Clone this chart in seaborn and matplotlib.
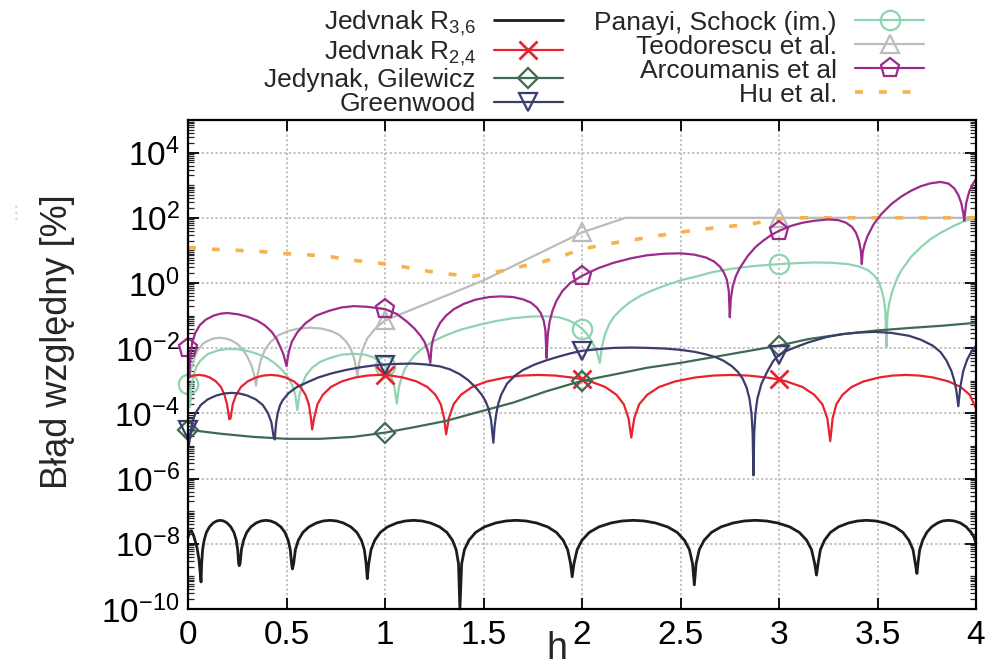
import numpy as np
import pandas as pd
import matplotlib
matplotlib.use("Agg")
import matplotlib.pyplot as plt
from matplotlib.lines import Line2D
from matplotlib.ticker import FixedLocator, LogLocator, FuncFormatter, NullFormatter, LogFormatterSciNotation
import seaborn as sns

# ---------------- data (h, log10 of relative error [%]) ----------------
r36_h = [0.0, 0.008, 0.018, 0.03, 0.045, 0.056, 0.066,
         0.069, 0.074, 0.082, 0.093, 0.109, 0.128, 0.146, 0.163, 0.181, 0.198, 0.217, 0.233, 0.245, 0.252, 0.257, 0.26,
         0.264, 0.271, 0.282, 0.298, 0.319, 0.346, 0.371, 0.395, 0.419, 0.444, 0.471, 0.492, 0.508, 0.519, 0.526, 0.53,
         0.536, 0.545, 0.560, 0.583, 0.614, 0.652, 0.686, 0.72, 0.754, 0.788, 0.826, 0.857, 0.880, 0.895, 0.904, 0.91,
         0.917, 0.929, 0.948, 0.976, 1.013, 1.060, 1.103, 1.145, 1.187, 1.230, 1.277, 1.314, 1.342, 1.361, 1.373, 1.38,
         1.389, 1.403, 1.426, 1.460, 1.505, 1.562, 1.614, 1.665, 1.716, 1.768, 1.825, 1.870, 1.904, 1.927, 1.942, 1.95,
         1.959, 1.975, 2.000, 2.037, 2.086, 2.148, 2.204, 2.26, 2.316, 2.372, 2.434, 2.483, 2.520, 2.545, 2.561, 2.57,
         2.579, 2.595, 2.620, 2.657, 2.706, 2.768, 2.824, 2.88, 2.936, 2.992, 3.054, 3.103, 3.140, 3.165, 3.181, 3.19,
         3.198, 3.210, 3.231, 3.261, 3.302, 3.353, 3.399, 3.445, 3.491, 3.537, 3.588, 3.629, 3.659, 3.680, 3.692, 3.70,
         3.705, 3.714, 3.729, 3.75, 3.775, 3.805, 3.83, 3.86, 3.89, 3.92, 3.95, 3.975, 3.99, 4.0]
r36_lg = [-7.8, -7.62, -7.6, -7.78, -8.1, -8.5, -9.17,
          -8.61, -8.18, -7.89, -7.65, -7.48, -7.36, -7.30, -7.28, -7.30, -7.36, -7.48, -7.65, -7.89, -8.18, -8.61, -8.67,
          -8.61, -8.18, -7.89, -7.65, -7.48, -7.36, -7.30, -7.28, -7.30, -7.36, -7.48, -7.65, -7.89, -8.18, -8.61, -8.77,
          -8.61, -8.18, -7.89, -7.65, -7.48, -7.36, -7.30, -7.28, -7.30, -7.36, -7.48, -7.65, -7.89, -8.18, -8.61, -9.07,
          -8.61, -8.18, -7.89, -7.65, -7.48, -7.36, -7.30, -7.28, -7.30, -7.36, -7.48, -7.65, -7.89, -8.18, -8.61, -10.0,
          -8.61, -8.18, -7.89, -7.65, -7.48, -7.36, -7.30, -7.28, -7.30, -7.36, -7.48, -7.65, -7.89, -8.18, -8.61, -9.01,
          -8.61, -8.18, -7.89, -7.65, -7.48, -7.36, -7.30, -7.28, -7.30, -7.36, -7.48, -7.65, -7.89, -8.18, -8.61, -9.26,
          -8.61, -8.18, -7.89, -7.65, -7.48, -7.36, -7.30, -7.28, -7.30, -7.36, -7.48, -7.65, -7.89, -8.18, -8.61, -8.96,
          -8.61, -8.18, -7.89, -7.65, -7.48, -7.36, -7.30, -7.28, -7.30, -7.36, -7.48, -7.65, -7.89, -8.18, -8.61, -8.91,
          -8.61, -8.18, -7.89, -7.65, -7.48, -7.36, -7.30, -7.28, -7.30, -7.36, -7.48, -7.65, -7.80, -8.0]

r24_h = [0.0, 0.027, 0.055, 0.083, 0.111, 0.142, 0.167, 0.185, 0.198, 0.205, 0.21,
         0.216, 0.227, 0.244, 0.269, 0.302, 0.344, 0.382, 0.42, 0.458, 0.496, 0.538, 0.571, 0.596, 0.613, 0.624, 0.63,
         0.640, 0.657, 0.684, 0.725, 0.780, 0.848, 0.909, 0.97, 1.0, 1.031, 1.092, 1.160, 1.215, 1.256, 1.283, 1.300, 1.31,
         1.324, 1.348, 1.385, 1.442, 1.517, 1.611, 1.695, 1.78, 1.865, 1.949, 2.0, 2.043, 2.118, 2.175, 2.212, 2.236, 2.25,
         2.265, 2.290, 2.331, 2.391, 2.472, 2.573, 2.664, 2.755, 2.846, 2.937, 3.0, 3.038, 3.119, 3.179, 3.220, 3.245, 3.26,
         3.272, 3.291, 3.322, 3.368, 3.429, 3.506, 3.576, 3.645, 3.714, 3.784, 3.861, 3.922, 3.968, 4.0]
r24_lg = [-2.90, -2.84, -2.82, -2.84, -2.90, -3.02, -3.19, -3.43, -3.72, -4.0, -4.18,
          -4.15, -3.72, -3.43, -3.19, -3.02, -2.90, -2.84, -2.82, -2.84, -2.90, -3.02, -3.19, -3.43, -3.72, -4.15, -4.49,
          -4.15, -3.72, -3.43, -3.19, -3.02, -2.90, -2.84, -2.82, -2.82, -2.84, -2.90, -3.02, -3.19, -3.43, -3.72, -4.15, -4.64,
          -4.15, -3.72, -3.43, -3.19, -3.02, -2.90, -2.84, -2.82, -2.84, -2.90, -2.95, -3.02, -3.19, -3.43, -3.72, -4.15, -4.74,
          -4.15, -3.72, -3.43, -3.19, -3.02, -2.90, -2.84, -2.82, -2.84, -2.90, -2.96, -3.02, -3.19, -3.43, -3.72, -4.15, -4.85,
          -4.15, -3.72, -3.43, -3.19, -3.02, -2.90, -2.84, -2.82, -2.84, -2.90, -3.02, -3.19, -3.43, -3.85]

gil_h = [0.0, 0.16, 0.33, 0.5, 0.67, 0.84, 1.0, 1.15, 1.31, 1.46, 1.65, 1.82, 2.0,
         2.16, 2.33, 2.5, 2.67, 2.84, 3.0, 3.15, 3.32, 3.49, 3.66, 3.83, 4.0]
gil_lg = [-4.5, -4.62, -4.72, -4.78, -4.78, -4.72, -4.59, -4.42, -4.23, -3.98, -3.67, -3.32, -3.0,
          -2.81, -2.6, -2.45, -2.27, -2.09, -1.92, -1.72, -1.57, -1.46, -1.38, -1.31, -1.22]

gw_h = [0.0, 0.004, 0.011, 0.021, 0.039, 0.065, 0.100, 0.144, 0.183, 0.222, 0.261, 0.300, 0.344, 0.379, 0.405, 0.423, 0.434, 0.44,
        0.447, 0.455, 0.467, 0.48, 0.51, 0.55, 0.6, 0.66, 0.73, 0.8, 0.87, 0.94, 1.0, 1.07, 1.14, 1.21, 1.28, 1.33, 1.38, 1.42,
        1.46, 1.49, 1.51, 1.525, 1.538, 1.55,
        1.556, 1.565, 1.575, 1.59, 1.62, 1.66, 1.70, 1.76, 1.82, 1.88, 1.94, 2.0, 2.08, 2.16, 2.25, 2.33, 2.42, 2.5, 2.57,
        2.63, 2.68, 2.72, 2.76, 2.79, 2.815, 2.835, 2.85, 2.86, 2.866, 2.87,
        2.874, 2.88, 2.89, 2.91, 2.94, 2.97, 3.0, 3.05, 3.1, 3.15, 3.24, 3.32, 3.4, 3.49, 3.57, 3.66, 3.72, 3.78, 3.82,
        3.85, 3.875, 3.89, 3.9, 3.91,
        3.92, 3.935, 3.955, 3.975, 4.0]
gw_lg = [-4.5, -5.0, -4.70, -4.27, -3.98, -3.74, -3.57, -3.45, -3.39, -3.37, -3.39, -3.45, -3.57, -3.74, -3.98, -4.27, -4.70, -4.8,
         -4.3, -4.0, -3.75, -3.6, -3.38, -3.2, -3.06, -2.9, -2.77, -2.67, -2.59, -2.53, -2.5, -2.48, -2.47, -2.5, -2.56, -2.65,
         -2.8, -2.97, -3.2, -3.42, -3.62, -3.85, -4.2, -4.9,
         -4.4, -4.0, -3.7, -3.42, -3.08, -2.84, -2.67, -2.5, -2.37, -2.26, -2.16, -2.08, -2.03, -1.99, -1.98, -1.99, -2.01,
         -2.05, -2.11, -2.19, -2.28, -2.39, -2.55, -2.72, -2.93, -3.2, -3.55, -4.0, -4.6, -5.9,
         -4.6, -4.0, -3.55, -3.1, -2.72, -2.4, -2.2, -2.05, -1.93, -1.82, -1.66, -1.57, -1.52, -1.5, -1.53, -1.62, -1.74,
         -1.92, -2.12, -2.38, -2.7, -3.0, -3.3, -3.78,
         -3.2, -2.7, -2.35, -2.12, -1.92]

pan_h = [0.0, 0.005, 0.01, 0.016, 0.025, 0.04, 0.06, 0.1, 0.15, 0.2, 0.25, 0.3, 0.35, 0.4, 0.44, 0.48, 0.51, 0.53,
         0.545, 0.555, 0.565, 0.58, 0.6, 0.63, 0.67, 0.72, 0.78, 0.84, 0.9, 0.94, 0.97, 1.0, 1.025, 1.045, 1.06, 1.07,
         1.085, 1.1, 1.12, 1.15, 1.18, 1.24, 1.31, 1.39, 1.48, 1.56, 1.65, 1.74, 1.82, 1.88, 1.93, 1.97, 2.0, 2.03,
         2.055, 2.075, 2.09, 2.1, 2.115, 2.135, 2.16, 2.2, 2.24, 2.3, 2.36, 2.41, 2.5, 2.58, 2.66, 2.75, 2.87, 3.0,
         3.09, 3.18, 3.27, 3.35, 3.41, 3.45, 3.48, 3.505, 3.52, 3.532, 3.54, 3.545, 3.55, 3.56, 3.575, 3.6, 3.62, 3.67,
         3.72, 3.77, 3.82, 3.88, 3.94, 4.0]
pan_lg = [-3.1, -3.5, -3.8, -3.2, -2.9, -2.6, -2.4, -2.18, -2.07, -2.02, -2.03, -2.08, -2.17, -2.3, -2.46, -2.68, -2.92, -3.15,
          -3.45, -3.9, -3.45, -3.1, -2.82, -2.6, -2.42, -2.3, -2.2, -2.17, -2.2, -2.28, -2.4, -2.55, -2.78, -3.1, -3.7, -3.2,
          -2.88, -2.65, -2.45, -2.22, -2.05, -1.8, -1.6, -1.42, -1.28, -1.17, -1.08, -1.03, -1.02, -1.05, -1.14, -1.26, -1.4, -1.6,
          -1.85, -2.1, -2.45, -2.0, -1.6, -1.3, -1.05, -0.8, -0.6, -0.38, -0.22, -0.1, 0.08, 0.2, 0.33, 0.43, 0.52, 0.58,
          0.61, 0.63, 0.62, 0.58, 0.5, 0.4, 0.25, 0.05, -0.2, -0.5, -0.9, -1.97, -1.0, -0.6, -0.25, 0.15, 0.38, 0.8,
          1.1, 1.35, 1.54, 1.73, 1.9, 2.01]

teo_h = [0.0, 0.01, 0.02, 0.035, 0.05, 0.075, 0.1, 0.13, 0.16, 0.19, 0.22, 0.25, 0.275, 0.3, 0.32, 0.335, 0.345,
         0.355, 0.37, 0.39, 0.42, 0.46, 0.51, 0.56, 0.62, 0.68, 0.73, 0.77, 0.8, 0.825, 0.845, 0.86, 0.87, 0.885,
         0.91, 0.95, 1.0, 1.5, 2.0, 2.22, 3.0, 4.0]
teo_lg = [-2.9, -2.75, -2.55, -2.25, -2.05, -1.87, -1.77, -1.7, -1.68, -1.7, -1.76, -1.87, -2.02, -2.25, -2.5, -2.8, -3.15,
          -2.75, -2.35, -2.05, -1.8, -1.6, -1.47, -1.4, -1.37, -1.4, -1.48, -1.6, -1.78, -2.0, -2.35, -2.85, -2.4, -2.05,
          -1.7, -1.4, -1.15, 0.08, 1.55, 2.0, 2.0, 2.0]

arc_h = [0.0, 0.003, 0.006, 0.0118, 0.0215, 0.037, 0.060, 0.091, 0.130, 0.165, 0.2, 0.254, 0.3, 0.35, 0.39, 0.425,
         0.45, 0.47, 0.485, 0.5,
         0.51, 0.527, 0.554, 0.595, 0.65, 0.718, 0.779, 0.84, 0.91, 1.0, 1.06, 1.11, 1.15, 1.18, 1.2, 1.218, 1.23,
         1.236, 1.245, 1.26, 1.28, 1.31, 1.35, 1.4, 1.46, 1.53, 1.59, 1.65, 1.7, 1.74, 1.77, 1.79, 1.805, 1.814, 1.82,
         1.826, 1.835, 1.85, 1.87, 1.9, 1.94, 2.0, 2.08, 2.16, 2.25, 2.33, 2.42, 2.5, 2.57, 2.63, 2.67, 2.7, 2.72,
         2.735, 2.745, 2.75,
         2.755, 2.765, 2.78, 2.8, 2.84, 2.88, 2.92, 2.96, 3.0, 3.06, 3.12, 3.18, 3.25, 3.3, 3.34, 3.37, 3.39, 3.405,
         3.415, 3.42,
         3.425, 3.435, 3.45, 3.48, 3.52, 3.57, 3.62, 3.67, 3.72, 3.77, 3.82, 3.86, 3.89, 3.91, 3.925, 3.935, 3.94,
         3.95, 3.965, 3.98, 4.0]
arc_lg = [-2.0, -2.5, -2.9, -2.25, -1.82, -1.53, -1.29, -1.12, -1.0, -0.94, -0.92, -0.96, -1.03, -1.15, -1.3, -1.5,
          -1.72, -1.98, -2.2, -2.55,
          -2.15, -1.8, -1.52, -1.24, -1.0, -0.85, -0.75, -0.71, -0.73, -0.8, -0.95, -1.18, -1.4, -1.62, -1.8, -2.1, -2.45,
          -1.95, -1.7, -1.45, -1.22, -1.0, -0.8, -0.64, -0.51, -0.43, -0.41, -0.43, -0.5, -0.6, -0.75, -0.92, -1.15, -1.45, -2.3,
          -1.6, -1.2, -0.85, -0.55, -0.25, 0.0, 0.22, 0.45, 0.62, 0.76, 0.85, 0.9, 0.91, 0.87, 0.78, 0.66, 0.5, 0.32,
          0.1, -0.25, -1.05,
          -0.5, -0.1, 0.2, 0.45, 0.82, 1.1, 1.3, 1.47, 1.6, 1.75, 1.85, 1.91, 1.95, 1.93, 1.85, 1.72, 1.55, 1.3,
          1.0, 0.58,
          0.95, 1.2, 1.45, 1.8, 2.12, 2.42, 2.65, 2.83, 2.97, 3.06, 3.1, 3.05, 2.9, 2.7, 2.45, 2.15, 1.91,
          2.45, 2.8, 3.0, 3.2]

hu_h = [0.0, 0.14, 0.26, 0.38, 0.5, 0.62, 0.73, 0.85, 0.97, 1.09,
        1.21, 1.33, 1.45, 1.56, 1.68, 1.8, 1.91, 2.0, 2.12, 2.24,
        2.36, 2.49, 2.61, 2.73, 2.85, 2.97, 3.05, 4.0]
hu_lg = [1.09, 1.03, 1.0, 0.96, 0.9, 0.86, 0.8, 0.69, 0.61, 0.5,
         0.37, 0.27, 0.21, 0.33, 0.49, 0.65, 0.85, 1.04, 1.19, 1.3,
         1.43, 1.55, 1.65, 1.73, 1.8, 1.94, 2.0, 2.0]

marker_h_all = [0.0, 1.0, 2.0, 3.0]
marker_h_late = [1.0, 2.0, 3.0]
x_ticks = [0, 0.5, 1, 1.5, 2, 2.5, 3, 3.5, 4]
y_ticks = [1e-10, 1e-8, 1e-6, 1e-4, 1e-2, 1e0, 1e2, 1e4]

labels = ["Jedvnak R$_{3{,}6}$", "Jedvnak R$_{2{,}4}$", "Jedynak, Gilewicz", "Greenwood",
          "Panayi, Schock (im.)", "Teodorescu et al.", "Arcoumanis et al", "Hu et al."]

# ---------------- styles ----------------
STYLE = {
    "r36": dict(color="#1c1c1c", lw=2.0, z=3),
    "r24": dict(color="#e8232f", lw=1.6, marker="x", ms=13, mew=2.0, z=4, at=marker_h_late),
    "gil": dict(color="#3f6a52", lw=1.6, marker="D", ms=10, mew=1.6, z=5, at=marker_h_all),
    "gw": dict(color="#3a3c6c", lw=1.6, marker="v", ms=13, mew=1.6, z=5, at=marker_h_all),
    "pan": dict(color="#8fd3b0", lw=1.6, marker="o", ms=14, mew=1.6, z=3, at=marker_h_all),
    "teo": dict(color="#bcbcbc", lw=1.6, marker="^", ms=13, mew=1.6, z=2, at=marker_h_late),
    "arc": dict(color="#9b2a8b", lw=1.6, marker="p", ms=14, mew=1.6, z=4, at=marker_h_all),
    "hu": dict(color="#f6b24c", lw=2.6, ls=(0, (2.2, 4.4)), z=3),
}

series = [("r36", labels[0], r36_h, r36_lg), ("r24", labels[1], r24_h, r24_lg),
          ("gil", labels[2], gil_h, gil_lg), ("gw", labels[3], gw_h, gw_lg),
          ("pan", labels[4], pan_h, pan_lg), ("teo", labels[5], teo_h, teo_lg),
          ("arc", labels[6], arc_h, arc_lg), ("hu", labels[7], hu_h, hu_lg)]

sns.set_theme(style="white")
plt.rcParams["font.family"] = ["Liberation Sans", "DejaVu Sans"]
plt.rcParams["mathtext.fontset"] = "custom"
plt.rcParams["mathtext.rm"] = "Liberation Sans"
plt.rcParams["mathtext.it"] = "Liberation Sans:italic"
plt.rcParams["mathtext.bf"] = "Liberation Sans:bold"
plt.rcParams["mathtext.default"] = "regular"

fig = plt.figure(figsize=(9.86, 6.66), dpi=100)
ax = fig.add_axes([0.1907, 0.0856, 0.7992, 0.7342])
ax.set_yscale("log")

handles = []
for key, label, h, lg in series:
    st = STYLE[key]
    df = pd.DataFrame({"h": h, "err": 10.0 ** np.asarray(lg, dtype=float)})
    kw = dict(color=st["color"], linewidth=st["lw"])
    if "ls" in st:
        kw["linestyle"] = st["ls"]
    if "marker" in st:
        kw.update(marker=st["marker"], markersize=st["ms"], markeredgewidth=st["mew"],
                  markeredgecolor=st["color"], markerfacecolor="none",
                  markevery=[i for i, v in enumerate(h) if v in st["at"]])
    sns.lineplot(data=df, x="h", y="err", ax=ax, estimator=None, errorbar=None,
                 sort=False, legend=False, clip_on=False, zorder=st["z"], **kw)
    proxy = dict(color=st["color"], linewidth=st["lw"])
    if "ls" in st:
        proxy["linestyle"] = st["ls"]
    if "marker" in st:
        proxy.update(marker=st["marker"], markersize=st["ms"], markeredgewidth=st["mew"],
                     markeredgecolor=st["color"], markerfacecolor="none")
    handles.append(Line2D([], [], **proxy))

ax.set_xlim(0, 4)
ax.set_ylim(1e-10, 1e5)
ax.set_xlabel("")
ax.set_ylabel("")

ax.xaxis.set_major_locator(FixedLocator(x_ticks))
ax.xaxis.set_major_formatter(FuncFormatter(lambda v, p: "%g" % v))
ax.yaxis.set_major_locator(FixedLocator(y_ticks))
ax.yaxis.set_major_formatter(LogFormatterSciNotation())
ax.yaxis.set_minor_locator(LogLocator(base=10, subs=np.arange(1, 10), numticks=200))
ax.yaxis.set_minor_formatter(NullFormatter())

ax.tick_params(axis="both", which="major", direction="in", length=8, width=1.3,
               top=True, right=True, bottom=True, left=True, labelsize=24, pad=6,
               colors="black")
ax.tick_params(axis="y", which="minor", direction="in", length=4, width=0.9,
               left=True, right=True)
ax.tick_params(axis="x", which="major", pad=8)

for s in ax.spines.values():
    s.set_color("black")
    s.set_linewidth(1.6)
    s.set_zorder(10)

ax.grid(True, which="major", color="#b4b4b4", linestyle=(0, (1.5, 1.5)), linewidth=1.1)
ax.set_axisbelow(True)

fig.text(0.058, 0.487, "Błąd względny [%]", rotation=90, fontsize=26,
         ha="center", va="center")
fig.text(0.565, 0.026, "h", fontsize=27, ha="center", va="center")
fig.text(0.016, 0.68, "⋮", fontsize=12, color="#cfcfcf", ha="center", va="center",
         family=["DejaVu Sans"])

fig.legend(handles, labels, ncol=2, markerfirst=False, frameon=False, fontsize=19,
           loc="upper right", bbox_to_anchor=(924 / 986, 1 - 9 / 666),
           handlelength=2.6, handletextpad=0.7, columnspacing=1.2,
           labelspacing=0.0, borderaxespad=0, borderpad=0)

fig.savefig("out.png", dpi=100)
